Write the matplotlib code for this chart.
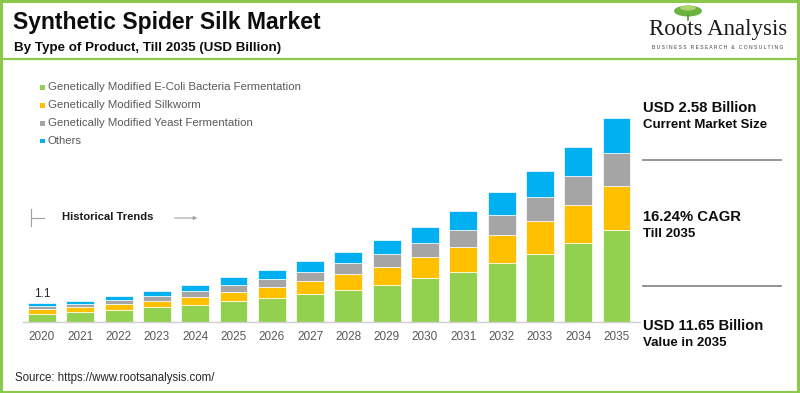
import matplotlib
matplotlib.use("Agg")
import matplotlib.pyplot as plt
from matplotlib.patches import Rectangle, Ellipse
from matplotlib.lines import Line2D
import numpy as np

years = ["2020", "2021", "2022", "2023", "2024", "2025", "2026", "2027",
         "2028", "2029", "2030", "2031", "2032", "2033", "2034", "2035"]
ecoli = [0.50, 0.61, 0.72, 0.86, 1.00, 1.21, 1.37, 1.60, 1.85, 2.15, 2.51, 2.89, 3.37, 3.89, 4.51, 5.26]
silkworm = [0.28, 0.27, 0.31, 0.36, 0.46, 0.53, 0.65, 0.76, 0.90, 1.03, 1.20, 1.39, 1.60, 1.89, 2.19, 2.55]
yeast = [0.16, 0.19, 0.25, 0.29, 0.33, 0.42, 0.46, 0.53, 0.63, 0.72, 0.83, 1.01, 1.16, 1.39, 1.64, 1.89]
others = [0.16, 0.17, 0.23, 0.30, 0.34, 0.42, 0.51, 0.59, 0.66, 0.80, 0.91, 1.07, 1.30, 1.45, 1.69, 1.95]
series_names = ["Genetically Modified E-Coli Bacteria Fermentation",
                "Genetically Modified Silkworm",
                "Genetically Modified Yeast Fermentation",
                "Others"]
colors = ["#92D050", "#FFC000", "#A5A5A5", "#00B0F0"]
first_label = "1.1"

plt.rcParams['font.family'] = ['Liberation Sans', 'DejaVu Sans']

W, H = 800, 393
fig = plt.figure(figsize=(8, 3.93), dpi=100)
fig.patch.set_facecolor("white")

def fx(x):
    return x / W

def fy(y):
    return 1 - y / H

GREEN = "#8CC84B"

# axes for bars
base_y = 322.3
ppu = 17.5
top_val = 13.0
ax_left, ax_right = 23, 640
ax = fig.add_axes([fx(ax_left), fy(base_y), (ax_right - ax_left) / W, top_val * ppu / H])
ax.patch.set_alpha(0)
x = np.arange(len(years))
bottom = np.zeros(len(years))
for vals, c in zip([ecoli, silkworm, yeast, others], colors):
    ax.bar(x, vals, width=0.73, bottom=bottom, color=c, edgecolor="white", linewidth=0.5)
    bottom += np.array(vals)
c0 = 42.0
step = 38.3
ax.set_xlim(-(c0 - ax_left) / step, (ax_right - c0) / step)
ax.set_ylim(0, top_val)
for s in ["top", "right", "left"]:
    ax.spines[s].set_visible(False)
ax.spines["bottom"].set_color("#D0D0D0")
ax.spines["bottom"].set_linewidth(1.0)
ax.set_yticks([])
ax.set_xticks(x)
ax.set_xticklabels(years, fontsize=8.5, color="#595959")
ax.tick_params(axis="x", length=0, pad=6)
ax.text(0, bottom[0] + 0.2, first_label, ha="center", va="bottom", fontsize=8.5, color="#262626")

# legend
for i, (name, c) in enumerate(zip(series_names, colors)):
    yy = 87 + 18 * i
    fig.patches.append(Rectangle((fx(40), fy(yy + 2.5)), 5 / W, 5 / H, transform=fig.transFigure,
                                 facecolor=c, edgecolor="none"))
    fig.text(fx(48), fy(yy), name, fontsize=8.2, color="#595959", va="center", ha="left")

# titles
fig.text(fx(13), fy(22), "Synthetic Spider Silk Market", fontsize=16.5, fontweight="bold",
         color="#0D0D0D", va="center", ha="left")
fig.text(fx(13.5), fy(48), "By Type of Product, Till 2035 (USD Billion)", fontsize=9.6,
         fontweight="bold", color="#0D0D0D", va="center", ha="left")

# frame
fig.patches.append(Rectangle((fx(1.2), fy(391.8)), (797.6 - 1.2) / W, (391.8 - 1.2) / H,
                             transform=fig.transFigure, facecolor="none", edgecolor=GREEN, linewidth=2.2))
fig.lines.append(Line2D([fx(0), fx(797)], [fy(59), fy(59)], transform=fig.transFigure,
                        color=GREEN, linewidth=1.6))

# logo
fig.patches.append(Ellipse((fx(688), fy(11)), 28 / W, 11 / H, transform=fig.transFigure,
                           facecolor="#6DB33F", edgecolor="none"))
fig.patches.append(Ellipse((fx(688), fy(8)), 16 / W, 5 / H, transform=fig.transFigure,
                           facecolor="#A8D86E", edgecolor="none"))
fig.lines.append(Line2D([fx(688), fx(688)], [fy(15), fy(20)], transform=fig.transFigure,
                        color="#5A8F3A", linewidth=1.2))
fig.text(fx(718), fy(30), "Roots Analysis", fontsize=16.5, family="Liberation Serif",
         color="#1A1A1A", va="center", ha="center")
fig.text(fx(718), fy(47.5), "B U S I N E S S   R E S E A R C H   &   C O N S U L T I N G",
         fontsize=3.6, color="#404040", va="center", ha="center")

# right panel
def rtext(y, s, size=9.6):
    fig.text(fx(643), fy(y), s, fontsize=size, fontweight="bold", color="#0D0D0D",
             va="center", ha="left")

rtext(108, "USD 2.58 Billion", 10.7)
rtext(125.5, "Current Market Size", 9.5)
rtext(217, "16.24% CAGR", 10.7)
rtext(234, "Till 2035", 9.5)
rtext(326, "USD 11.65 Billion", 10.7)
rtext(343, "Value in 2035", 9.5)
for yy in [160, 286]:
    fig.lines.append(Line2D([fx(643), fx(781)], [fy(yy), fy(yy)], transform=fig.transFigure,
                            color="#808080", linewidth=1.2))

# historical trends
fig.lines.append(Line2D([fx(30.5), fx(30.5)], [fy(209), fy(226)], transform=fig.transFigure,
                        color="#A0A0A0", linewidth=0.8))
fig.lines.append(Line2D([fx(30.5), fx(44)], [fy(218), fy(218)], transform=fig.transFigure,
                        color="#A0A0A0", linewidth=0.8))
fig.text(fx(62), fy(217), "Historical Trends", fontsize=8.1, fontweight="bold", color="#1A1A1A",
         va="center", ha="left")
fig.add_artist(matplotlib.patches.FancyArrowPatch((fx(172), fy(218)), (fx(200), fy(218)),
                                                  transform=fig.transFigure, arrowstyle="-|>",
                                                  mutation_scale=5, color="#A0A0A0", linewidth=0.8))

# source
fig.text(fx(15), fy(378), "Source: https://www.rootsanalysis.com/", fontsize=8.3, color="#262626",
         va="center", ha="left")

fig.savefig("out.png", dpi=100)
